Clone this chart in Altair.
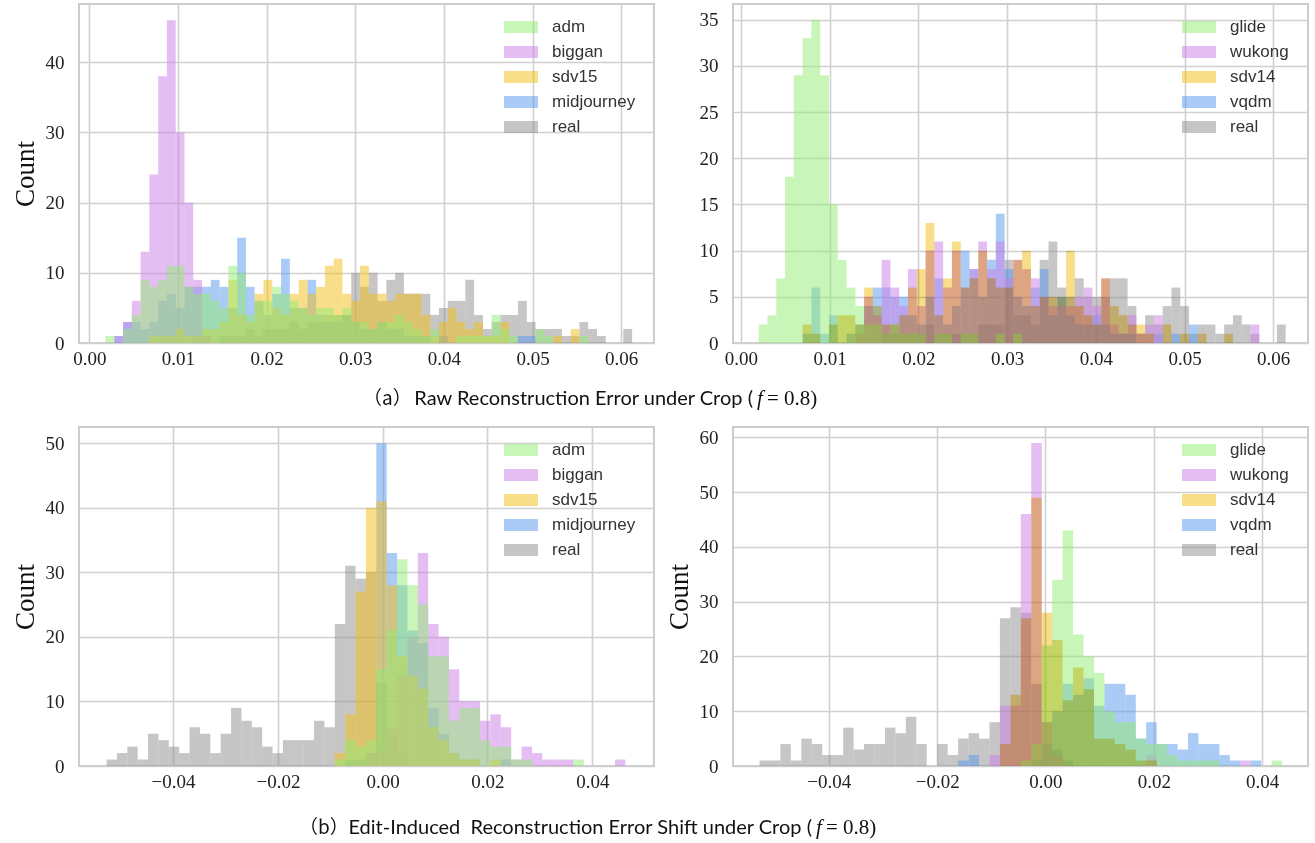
import altair as alt
import pandas as pd

# ---------------- series names / colours ----------------
LEFT_NAMES = ["adm", "biggan", "sdv15", "midjourney", "real"]
RIGHT_NAMES = ["glide", "wukong", "sdv14", "vqdm", "real"]
COLORS = ["#91eb71", "#c97de7", "#f3bd15", "#5597eb", "#8d8d8d"]
# drawing order, bottom -> top (index into the name lists)
LEFT_ORDER = [4, 3, 1, 2, 0]
RIGHT_ORDER = [4, 3, 1, 0, 2]

# ---------------- (a) left: raw error, adm/biggan/sdv15/midjourney/real ----------------
TL_START, TL_WIDTH = 0.00183, 0.00099
TL_ADM = [1, 0, 2, 4, 9, 8, 9, 11, 11, 8, 7, 7, 6, 5, 11, 10, 4, 6, 6, 8, 7, 6, 5, 4, 5, 5, 4, 5, 3, 3,
          2, 3, 3, 4, 3, 2, 1, 2, 0, 0, 1, 1, 1, 1, 4, 2, 1, 0, 0, 2, 1, 0, 0, 0, 1]
TL_BIGGAN = [0, 1, 3, 6, 13, 24, 38, 46, 30, 20, 9, 1]
TL_SDV15 = [0, 0, 0, 0, 0, 1, 1, 1, 2, 1, 1, 2, 2, 3, 9, 4, 3, 7, 9, 5, 4, 7, 9, 7, 8, 11, 12, 7, 6, 11,
            7, 7, 6, 7, 7, 7, 4, 1, 3, 5, 3, 2, 3, 1, 1, 3, 0, 0, 0, 0, 0, 1, 0, 2]
TL_MJ = [0, 1, 3, 3, 2, 3, 6, 7, 5, 8, 8, 8, 9, 8, 5, 15, 8, 6, 4, 7, 12, 5, 5, 9, 4, 3, 3, 4, 3, 2,
         2, 3, 2, 2, 1, 1, 1, 0, 1, 0, 0, 0, 0, 0, 0, 0, 0, 1, 1]
TL_REAL = [0, 0, 0, 0, 0, 0, 0, 0, 0, 0, 1, 1, 0, 1, 1, 1, 2, 1, 2, 2, 2, 3, 2, 3, 3, 4, 4, 4, 10, 8,
           10, 6, 9, 10, 7, 7, 7, 4, 5, 6, 6, 9, 4, 2, 3, 4, 4, 6, 3, 2, 2, 2, 1, 1, 3, 2, 1, 0, 0, 2]

# ---------------- (a) right: raw error, glide/wukong/sdv14/vqdm/real ----------------
TR_START, TR_WIDTH = 0.0020, 0.00099
TR_GLIDE = [2, 3, 7, 18, 29, 33, 35, 29, 15, 9, 6, 4, 2, 2, 1, 2, 1, 1, 1, 0, 1, 1, 0, 1, 1, 0, 0, 1, 0, 1]
TR_WUKONG = [0, 0, 0, 0, 0, 0, 0, 0, 0, 0, 0, 1, 5, 3, 9, 6, 4, 8, 4, 10, 11, 6, 10, 6, 8, 11, 8, 11, 7, 9,
             8, 7, 5, 4, 4, 4, 5, 6, 4, 7, 2, 1, 3, 1, 2, 3, 0, 0, 0, 0, 0, 0, 0, 0, 0, 0, 2]
TR_SDV14 = [0, 0, 0, 0, 0, 2, 1, 0, 2, 3, 3, 2, 6, 4, 2, 2, 3, 6, 8, 13, 3, 7, 11, 6, 7, 10, 7, 6, 6, 9,
            10, 4, 5, 5, 5, 10, 4, 3, 2, 7, 4, 3, 2, 2, 1, 0, 2, 0, 1, 0, 1, 0, 0, 1]
TR_VQDM = [0, 0, 0, 0, 0, 1, 6, 1, 3, 0, 1, 2, 4, 6, 6, 5, 5, 3, 2, 5, 7, 2, 4, 10, 8, 5, 9, 14, 8, 5,
           4, 6, 8, 3, 5, 3, 2, 2, 3, 2, 1, 1, 1, 0, 0, 1, 0, 1, 0, 2]
TR_REAL = [0, 0, 0, 0, 0, 0, 0, 0, 0, 0, 0, 0, 0, 0, 1, 1, 1, 1, 1, 2, 1, 1, 1, 1, 1, 2, 2, 2, 9, 3,
           3, 2, 9, 11, 6, 5, 7, 5, 5, 5, 7, 7, 4, 1, 3, 2, 4, 6, 4, 1, 2, 2, 1, 2, 3, 2, 1, 0, 0, 2]

# ---------------- (b) left: error shift ----------------
BL_START, BL_WIDTH = -0.0527, 0.00198
BL_ADM = [0] * 22 + [1, 4, 3, 4, 15, 21, 32, 28, 25, 17, 17, 7, 9, 9, 4, 3, 3, 1, 1, 0, 0, 0, 0, 1]
BL_BIGGAN = [0] * 25 + [2, 2, 6, 14, 20, 33, 22, 20, 15, 10, 10, 7, 8, 6, 1, 3, 2, 1, 1, 1, 0, 0, 0, 0, 1]
BL_SDV15 = [0] * 22 + [2, 8, 27, 40, 41, 28, 17, 14, 12, 6, 4, 2, 1, 1, 0, 1]
BL_MJ = [0] * 23 + [1, 1, 2, 50, 33, 28, 21, 19, 9, 5, 2, 1, 1, 0, 0, 1]
BL_REAL = [1, 2, 3, 1, 5, 4, 3, 2, 6, 5, 2, 5, 9, 7, 6, 3, 2, 4, 4, 4, 7, 6, 22, 31, 29, 30, 13, 5, 2]

# ---------------- (b) right: error shift ----------------
BR_START, BR_WIDTH = -0.0528, 0.00193
BR_GLIDE = [0] * 25 + [1, 4, 22, 34, 43, 24, 20, 17, 10, 8, 8, 5, 4, 4, 2, 1, 1, 1, 1, 0, 0, 0, 0, 0, 1]
BR_WUKONG = [0] * 22 + [2, 11, 11, 46, 59, 8, 2, 0, 0, 0, 0, 0, 0, 0, 0, 2, 0, 0, 0, 0, 0, 0, 0, 0, 1]
BR_SDV14 = [0] * 23 + [4, 13, 27, 49, 28, 23, 12, 18, 14, 5, 5, 4, 3, 1, 1]
BR_VQDM = [0] * 19 + [1, 2, 0, 0, 0, 0, 0, 1, 4, 10, 15, 13, 16, 11, 15, 15, 13, 5, 8, 4, 4, 3, 6, 4, 4, 2, 1, 0, 1]
BR_REAL = [1, 1, 4, 1, 5, 4, 2, 2, 7, 3, 4, 4, 7, 6, 9, 4, 0, 4, 2, 5, 6, 5, 8, 27, 29, 28, 15, 8, 3, 1]

# ---------------- axes ----------------
TOP_XTICKS = [0.0, 0.01, 0.02, 0.03, 0.04, 0.05, 0.06]
BOT_XTICKS = [-0.04, -0.02, 0.0, 0.02, 0.04]
TL_YTICKS = [0, 10, 20, 30, 40]
TR_YTICKS = [0, 5, 10, 15, 20, 25, 30, 35]
BL_YTICKS = [0, 10, 20, 30, 40, 50]
BR_YTICKS = [0, 10, 20, 30, 40, 50, 60]
TL_XDOM, TL_YDOM = [-0.00116, 0.0637], [0, 48.3]
TR_XDOM, TR_YDOM = [-0.0009, 0.06392], [0, 36.7]
BL_XDOM, BL_YDOM = [-0.05796, 0.05178], [0, 52.5]
BR_XDOM, BR_YDOM = [-0.0577, 0.04848], [0, 61.9]
Y_TITLE = "Count"

CAP_A = ["（a）", "Raw Reconstruction Error under Crop (", "f", "= 0.8)"]
CAP_B = ["（b）", "Edit-Induced\u00a0 Reconstruction Error Shift under Crop (", "f", "= 0.8)"]

W, H = 575, 339
SERIF = "Liberation Serif"
SANS = "Liberation Sans"
CAP_FONT = "Lato, 'Noto Sans CJK SC', sans-serif"
CJK_FONT = "'Noto Sans CJK SC', sans-serif"
LEGEND_PATH = "M-1,-0.35L1,-0.35L1,0.35L-1,0.35Z"


def build_df(names, lists, start, width, order):
    rows = []
    for rank, idx in enumerate(order):
        name, counts = names[idx], lists[idx]
        for k, c in enumerate(counts):
            if c > 0:
                rows.append({"series": name, "rank": rank, "x0": start + k * width,
                             "x1": start + (k + 1) * width, "count": c})
    return pd.DataFrame(rows)


def panel(df, names, xdom, ydom, xticks, yticks, ytitle, lx, ly, multiply_gold):
    yaxis_kw = dict(values=yticks, format="d", grid=True, domain=False, ticks=False, tickSize=0,
                    labelFont=SERIF, labelFontSize=19, labelColor="#222222", labelPadding=15,
                    gridColor="#d0d0d0", gridWidth=1.6)
    if ytitle:
        yaxis_kw.update(title=ytitle, titleFont=SERIF, titleFontSize=27, titleFontWeight="normal",
                        titleColor="#111111", titleX=-54, titleY=H / 2, titleAngle=270,
                        titleAlign="center", titleBaseline="middle")
    else:
        yaxis_kw.update(title=None)
    base = alt.Chart(df).encode(
        x=alt.X("x0:Q", scale=alt.Scale(domain=xdom, nice=False, zero=False),
                axis=alt.Axis(values=xticks, format=".2f", title=None, grid=True, domain=False,
                              ticks=False, tickSize=0, labelFont=SERIF, labelFontSize=19,
                              labelColor="#222222", labelPadding=6, labelFlush=False,
                              gridColor="#d0d0d0", gridWidth=1.6)),
        x2="x1:Q",
        y=alt.Y("count:Q", scale=alt.Scale(domain=ydom, nice=False, zero=True),
                axis=alt.Axis(**yaxis_kw)),
        y2=alt.datum(0),
        color=alt.Color("series:N", sort=names,
                        scale=alt.Scale(domain=names, range=COLORS),
                        legend=alt.Legend(title=None, orient="none", legendX=lx, legendY=ly,
                                          direction="vertical", symbolType=LEGEND_PATH,
                                          symbolSize=1156, symbolOpacity=0.5, symbolStrokeWidth=0,
                                          labelFont=SANS, labelFontSize=17, labelColor="#333333",
                                          labelOffset=14, rowPadding=0, padding=0, labelLimit=300)),
    )
    if not multiply_gold:
        return [base.mark_rect(opacity=0.5)]
    gold = names[2]
    normal = base.transform_filter(alt.datum.series != gold).mark_rect(opacity=0.5)
    mult = base.transform_filter(alt.datum.series == gold).mark_rect(opacity=0.5, blend="multiply")
    return [normal, mult]


def caption(parts, xs, y):
    specs = [
        (parts[0], "left", CJK_FONT, 19, "normal", xs[0]),
        (parts[1], "right", CAP_FONT, 20, "normal", xs[1]),
        (parts[2], "left", SERIF, 21, "italic", xs[2]),
        (parts[3], "left", SERIF, 21, "normal", xs[3]),
    ]
    layers = []
    for txt, align, font, size, style, x in specs:
        layers.append(alt.Chart(pd.DataFrame({"t": [txt]})).mark_text(
            align=align, baseline="alphabetic", font=font, fontSize=size, fontStyle=style,
            color="#111111"
        ).encode(x=alt.value(x), y=alt.value(y), text="t:N"))
    return layers


tl_df = build_df(LEFT_NAMES, [TL_ADM, TL_BIGGAN, TL_SDV15, TL_MJ, TL_REAL], TL_START, TL_WIDTH, LEFT_ORDER)
tr_df = build_df(RIGHT_NAMES, [TR_GLIDE, TR_WUKONG, TR_SDV14, TR_VQDM, TR_REAL], TR_START, TR_WIDTH, RIGHT_ORDER)
bl_df = build_df(LEFT_NAMES, [BL_ADM, BL_BIGGAN, BL_SDV15, BL_MJ, BL_REAL], BL_START, BL_WIDTH, LEFT_ORDER)
br_df = build_df(RIGHT_NAMES, [BR_GLIDE, BR_WUKONG, BR_SDV14, BR_VQDM, BR_REAL], BR_START, BR_WIDTH, RIGHT_ORDER)

tl = alt.layer(*panel(tl_df, LEFT_NAMES, TL_XDOM, TL_YDOM, TOP_XTICKS, TL_YTICKS, Y_TITLE, 425, 6, False),
               *caption(CAP_A, [284, 674, 678, 688], 401)).properties(width=W, height=H)
tr = alt.layer(*panel(tr_df, RIGHT_NAMES, TR_XDOM, TR_YDOM, TOP_XTICKS, TR_YTICKS, None, 449, 6, True)
               ).properties(width=W, height=H)
bl = alt.layer(*panel(bl_df, LEFT_NAMES, BL_XDOM, BL_YDOM, BOT_XTICKS, BL_YTICKS, Y_TITLE, 425, 6, False),
               *caption(CAP_B, [220, 733, 737, 747], 407)).properties(width=W, height=H)
br = alt.layer(*panel(br_df, RIGHT_NAMES, BR_XDOM, BR_YDOM, BOT_XTICKS, BR_YTICKS, Y_TITLE, 449, 6, True)
               ).properties(width=W, height=H)

chart = alt.concat(tl, tr, bl, br, columns=2, spacing={"row": 84, "column": 79}, bounds="flush").resolve_scale(
    color="independent").resolve_legend(color="independent").properties(
    padding={"left": 10, "top": 3, "right": 5, "bottom": 5},
    background="white",
).configure_view(stroke="#cccccc", strokeWidth=2)

chart.save("out.html", embed_options={"renderer": "svg", "actions": False})
